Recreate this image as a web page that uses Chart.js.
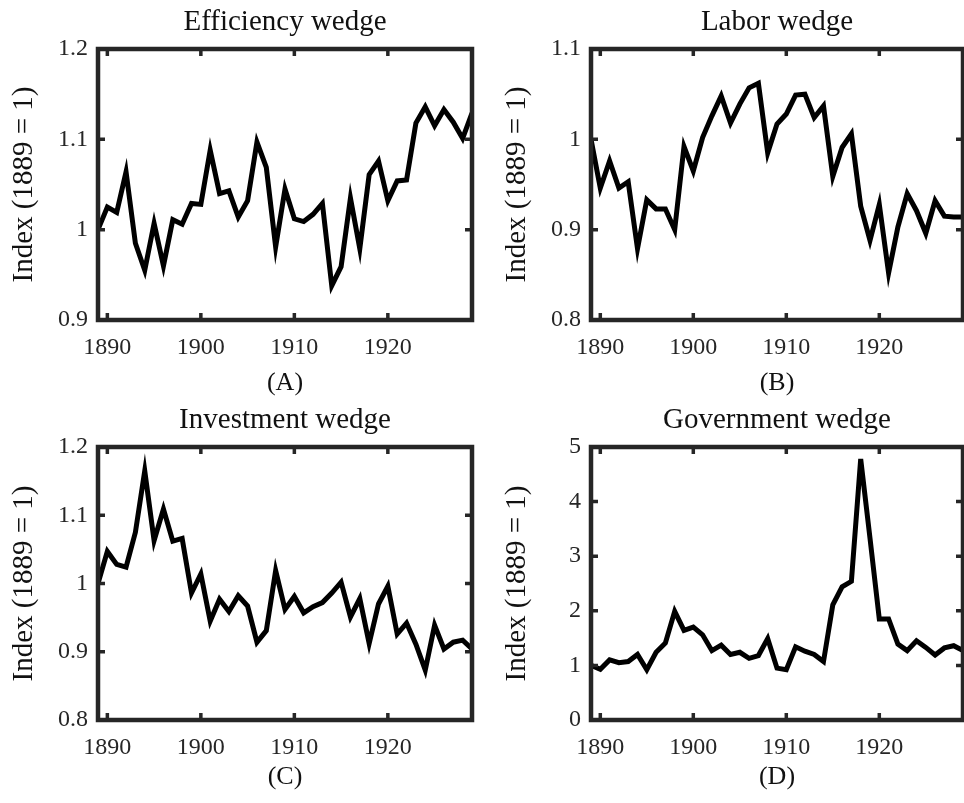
<!DOCTYPE html>
<html>
<head>
<meta charset="utf-8">
<script src="https://cdn.jsdelivr.net/npm/chart.js@4.4.1/dist/chart.umd.min.js"></script>
<style>
    body { margin: 0; background: #fff; width: 964px; height: 803px; position: relative; overflow: hidden; }
    canvas { position: absolute; }
</style>
</head>
<body>
<canvas id="chartA" width="482" height="401" style="left:0px;top:0px"></canvas>
<canvas id="chartB" width="471" height="401" style="left:493px;top:0px"></canvas>
<canvas id="chartC" width="482" height="402" style="left:0px;top:401px"></canvas>
<canvas id="chartD" width="471" height="402" style="left:493px;top:401px"></canvas>
<script>
const anos = [1889, 1890, 1891, 1892, 1893, 1894, 1895, 1896, 1897, 1898,
    1899, 1900, 1901, 1902, 1903, 1904, 1905, 1906, 1907, 1908,
    1909, 1910, 1911, 1912, 1913, 1914, 1915, 1916, 1917, 1918,
    1919, 1920, 1921, 1922, 1923, 1924, 1925, 1926, 1927, 1928, 1929];

const eficiencia = [1.000, 1.025, 1.019, 1.064, 0.985, 0.955, 1.007, 0.960, 1.011, 1.006,
    1.029, 1.028, 1.088, 1.040, 1.043, 1.014, 1.032, 1.097, 1.069, 0.981,
    1.045, 1.012, 1.009, 1.017, 1.029, 0.938, 0.959, 1.035, 0.979, 1.061,
    1.076, 1.032, 1.054, 1.055, 1.118, 1.136, 1.115, 1.133, 1.119, 1.101, 1.129];

const trabalho = [1.000, 0.946, 0.976, 0.946, 0.953, 0.879, 0.933, 0.923, 0.923, 0.900,
    0.992, 0.965, 1.002, 1.026, 1.048, 1.018, 1.039, 1.057, 1.062, 0.985,
    1.017, 1.028, 1.049, 1.050, 1.024, 1.037, 0.959, 0.991, 1.006, 0.926,
    0.888, 0.928, 0.852, 0.903, 0.940, 0.921, 0.896, 0.932, 0.915, 0.914, 0.914];

const investimento = [1.000, 1.047, 1.028, 1.024, 1.075, 1.165, 1.063, 1.109, 1.062, 1.066,
    0.986, 1.014, 0.945, 0.977, 0.959, 0.982, 0.967, 0.914, 0.931, 1.019,
    0.962, 0.981, 0.957, 0.966, 0.972, 0.986, 1.002, 0.951, 0.978, 0.912,
    0.970, 0.996, 0.926, 0.942, 0.911, 0.873, 0.939, 0.904, 0.914, 0.917, 0.904];

const governo = [1.00, 0.93, 1.10, 1.05, 1.07, 1.20, 0.92, 1.24, 1.41, 1.99,
    1.64, 1.70, 1.56, 1.27, 1.37, 1.20, 1.24, 1.13, 1.18, 1.49,
    0.95, 0.92, 1.34, 1.26, 1.20, 1.07, 2.11, 2.44, 2.54, 4.78,
    3.33, 1.85, 1.85, 1.39, 1.27, 1.45, 1.33, 1.19, 1.32, 1.36, 1.27];

const ticksX = [1890, 1900, 1910, 1920];
const ticksA = [0.9, 1.0, 1.1, 1.2];
const ticksB = [0.8, 0.9, 1.0, 1.1];
const ticksC = [0.8, 0.9, 1.0, 1.1, 1.2];
const ticksD = [0, 1, 2, 3, 4, 5];

const titulos = ['Efficiency wedge', 'Labor wedge', 'Investment wedge', 'Government wedge'];
const letras = ['(A)', '(B)', '(C)', '(D)'];
const rotuloY = 'Index (1889 = 1)';

const FONTE = "'Liberation Serif', 'Times New Roman', serif";
const COR_EIXO = '#262626';
const TAM_TITULO = 29;

// moldura e marcas para dentro, como no MATLAB
const moldura = {
    id: 'moldura',
    afterDraw(chart) {
        const { ctx, chartArea: a, scales } = chart;
        const tam = 7;
        ctx.save();
        ctx.strokeStyle = COR_EIXO;
        ctx.lineWidth = 3.5;
        ctx.beginPath();
        ticksX.forEach(v => {
            const px = scales.x.getPixelForValue(v);
            ctx.moveTo(px, a.bottom); ctx.lineTo(px, a.bottom - tam);
            ctx.moveTo(px, a.top); ctx.lineTo(px, a.top + tam);
        });
        scales.y.ticks.forEach(t => {
            const py = scales.y.getPixelForValue(t.value);
            ctx.moveTo(a.left, py); ctx.lineTo(a.left + tam, py);
            ctx.moveTo(a.right, py); ctx.lineTo(a.right - tam, py);
        });
        ctx.stroke();
        ctx.lineWidth = 4.5;
        ctx.strokeRect(a.left, a.top, a.right - a.left, a.bottom - a.top);
        ctx.restore();
    }
};

function criarPainel(id, i, valores, ticksY, cfg) {
    const ctx = document.getElementById(id).getContext('2d');
    return new Chart(ctx, {
        type: 'line',
        data: {
            datasets: [{
                data: anos.map((a, k) => ({ x: a, y: valores[k] })),
                borderColor: '#000',
                borderWidth: 5,
                pointRadius: 0,
                tension: 0,
                fill: false
            }]
        },
        options: {
            responsive: false,
            animation: false,
            layout: { padding: { left: 0, right: cfg.direita, top: 0, bottom: 0 } },
            plugins: {
                legend: { display: false },
                tooltip: { enabled: false },
                title: {
                    display: true,
                    fullSize: false,
                    text: titulos[i],
                    color: '#111',
                    font: { family: FONTE, size: TAM_TITULO, weight: 'normal' },
                    padding: { top: cfg.tituloTopo, bottom: cfg.topo - TAM_TITULO * 1.2 - cfg.tituloTopo }
                }
            },
            scales: {
                x: {
                    type: 'linear',
                    min: 1889,
                    max: 1929,
                    afterBuildTicks: s => { s.ticks = ticksX.map(v => ({ value: v })); },
                    afterFit: s => { s.height = cfg.baseX; },
                    grid: { display: false, drawTicks: false },
                    border: { display: false },
                    ticks: {
                        color: COR_EIXO,
                        padding: 13,
                        maxRotation: 0,
                        font: { family: FONTE, size: 24 },
                        callback: v => String(v)
                    },
                    title: {
                        display: true,
                        text: letras[i],
                        color: '#111',
                        font: { family: FONTE, size: 26 },
                        padding: { top: 0, bottom: cfg.letraBase }
                    }
                },
                y: {
                    min: ticksY[0],
                    max: ticksY[ticksY.length - 1],
                    afterBuildTicks: s => { s.ticks = ticksY.map(v => ({ value: v })); },
                    afterFit: s => { s.width = 98; },
                    grid: { display: false, drawTicks: false },
                    border: { display: false },
                    ticks: {
                        color: COR_EIXO,
                        padding: 10,
                        font: { family: FONTE, size: 24 },
                        callback: v => String(Number(v.toFixed(2)))
                    },
                    title: {
                        display: true,
                        text: rotuloY,
                        color: '#111',
                        font: { family: FONTE, size: 29 },
                        padding: { top: 7, bottom: 0 }
                    }
                }
            }
        },
        plugins: [moldura]
    });
}

document.addEventListener('DOMContentLoaded', function () {
    const cima = { topo: 49, tituloTopo: 5, baseX: 81, letraBase: 2 };
    const baixo = { topo: 46, tituloTopo: 2, baseX: 83, letraBase: 10 };

    criarPainel('chartA', 0, eficiencia, ticksA, { ...cima, direita: 10 });
    criarPainel('chartB', 1, trabalho, ticksB, { ...cima, direita: 1 });
    criarPainel('chartC', 2, investimento, ticksC, { ...baixo, direita: 10 });
    criarPainel('chartD', 3, governo, ticksD, { ...baixo, direita: 1 });
});
</script>
</body>
</html>
